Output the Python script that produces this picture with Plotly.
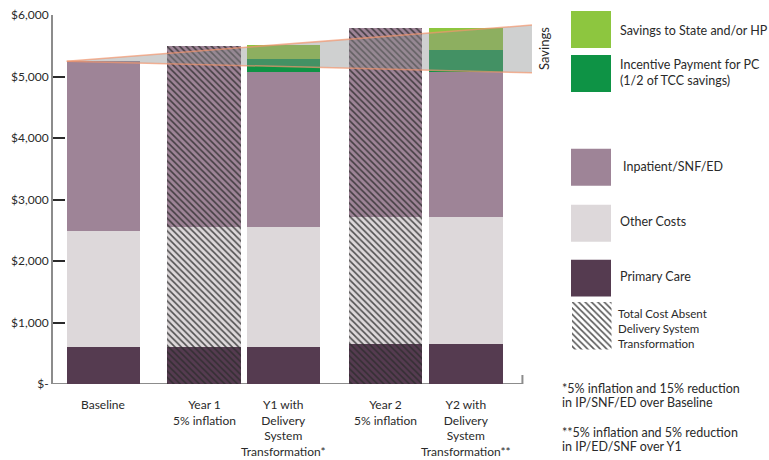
import plotly.graph_objects as go

# ---------------- data ----------------
CATEGORIES = [
    "Baseline",
    "Year 1<br>5% inflation",
    "Y1 with<br>Delivery<br>System<br>Transformation*",
    "Year 2<br>5% inflation",
    "Y2 with<br>Delivery<br>System<br>Transformation**",
]
PRIMARY_CARE = [600, 600, 600, 655, 655]
OTHER_COSTS = [1880, 1960, 1960, 2055, 2055]
INPATIENT = [2770, 2940, 2510, 3075, 2370]
INCENTIVE_PC = [0, 0, 215, 0, 355]
SAVINGS_STATE = [0, 0, 220, 0, 355]
ABSENT_TRANSFORMATION = [False, True, False, True, False]
SAVINGS_BAND_END = [5836, 5060]          # upper / lower value of the savings wedge at its right end
Y_TICKS = [0, 1000, 2000, 3000, 4000, 5000, 6000]
Y_TICK_LABELS = ["$-", "$1,000", "$2,000", "$3,000", "$4,000", "$5,000", "$6,000"]
LEGEND_LABELS = ["Savings to State and/or HP",
                 "Incentive Payment for PC<br>(1/2 of TCC savings)",
                 "Inpatient/SNF/ED", "Other Costs", "Primary Care",
                 "Total Cost Absent<br>Delivery System<br>Transformation"]
FOOTNOTES = ["*5% inflation and 15% reduction", "in IP/SNF/ED over Baseline",
             "**5% inflation and 5% reduction", "in IP/ED/SNF over Y1"]

# ---------------- layout constants ----------------
W, H = 769, 460
ML, MT, MB, MR = 53, 15, 75.5, 0
PW, PH = W - ML - MR, H - MT - MB
PLOT_RIGHT_PX = 540
X_POS = [0, 1.37, 2.45, 3.84, 4.93]
BAR_W = 1.0
X_RANGE = [-0.687, 5.939]
BAND_END_X = 5.83
AXIS_END_X = 5.70

C_PC = "#553b50"
C_OTHER = "#ddd8da"
C_IP = "#9e8497"
C_GREEN_D = "#0e9345"
C_GREEN_L = "#8dc63f"
TXT = "#2a2a2a"
FONT = "Lato, Open Sans, sans-serif"
HATCH = dict(fillmode="overlay", fgcolor="#2b2b2b", fgopacity=0.8, size=4.5, solidity=0.35)


def px2x(px):
    return (px - ML) / PW


def px2y(py):
    return (MT + PH - py) / PH


hatch = ["\\" if a else "" for a in ABSENT_TRANSFORMATION]

fig = go.Figure()
for vals, col, name, pat in [
    (PRIMARY_CARE, C_PC, "Primary Care", True),
    (OTHER_COSTS, C_OTHER, "Other Costs", True),
    (INPATIENT, C_IP, "Inpatient/SNF/ED", True),
    (INCENTIVE_PC, C_GREEN_D, "Incentive Payment for PC", False),
    (SAVINGS_STATE, C_GREEN_L, "Savings to State and/or HP", False),
]:
    marker = dict(color=col, line=dict(width=0))
    if pat:
        marker["pattern"] = dict(shape=hatch, **HATCH)
    fig.add_trace(go.Bar(x=X_POS, y=vals, width=BAR_W, name=name, marker=marker,
                         hoverinfo="skip", showlegend=False))

# hatched legend swatch in its own tiny subplot
fig.add_trace(go.Bar(x=[0], y=[1], width=1, xaxis="x2", yaxis="y2", showlegend=False,
                     hoverinfo="skip",
                     marker=dict(color="white", line=dict(width=0),
                                 pattern=dict(shape="\\", **HATCH))))

shapes = []
# savings wedge
base_total = PRIMARY_CARE[0] + OTHER_COSTS[0] + INPATIENT[0]
x0 = X_POS[0] - BAR_W / 2
shapes.append(dict(type="path", xref="x", yref="y", layer="above",
                   path=f"M {x0},{base_total} L {BAND_END_X},{SAVINGS_BAND_END[0]} "
                        f"L {BAND_END_X},{SAVINGS_BAND_END[1]} Z",
                   fillcolor="rgba(141,142,143,0.42)", line=dict(width=0)))
for yend in SAVINGS_BAND_END:
    shapes.append(dict(type="line", xref="x", yref="y", layer="above",
                       x0=x0, y0=base_total, x1=BAND_END_X, y1=yend,
                       line=dict(color="rgba(242,150,110,0.7)", width=1.5)))
# bottom axis line + end tick
shapes.append(dict(type="line", xref="x", yref="y", layer="below",
                   x0=X_RANGE[0], x1=AXIS_END_X, y0=0, y1=0,
                   line=dict(color="#8c8c8c", width=2)))
shapes.append(dict(type="line", xref="x", yref="y", ysizemode="pixel", yanchor=0,
                   x0=AXIS_END_X, x1=AXIS_END_X, y0=0, y1=9,
                   line=dict(color="#8c8c8c", width=2)))

# legend swatches (solid)
swatches = [(C_GREEN_L, 11, 48), (C_GREEN_D, 55, 92), (C_IP, 149, 186),
            (C_OTHER, 205, 242), (C_PC, 260, 297)]
for col, top, bot in swatches:
    shapes.append(dict(type="rect", xref="paper", yref="paper",
                       x0=px2x(571), x1=px2x(611), y0=px2y(bot), y1=px2y(top),
                       fillcolor=col, line=dict(width=0)))

annotations = []
# category labels under the bars
for xp, lab in zip(X_POS, CATEGORIES):
    annotations.append(dict(xref="x", yref="paper", x=xp, y=0, xanchor="center",
                            yanchor="top", yshift=-11, showarrow=False, align="center",
                            text=lab, font=dict(family=FONT, size=12, color=TXT)))
legend_text_pos = [(618, 31, 12.5), (618, 73, 12.5), (621, 167, 12.5), (618, 222, 12.5),
                   (618, 277, 12.5), (616, 329, 11.5)]
for lab, (lx, ly, fs) in zip(LEGEND_LABELS, legend_text_pos):
    annotations.append(dict(xref="paper", yref="paper", x=px2x(lx), y=px2y(ly),
                            xanchor="left", yanchor="middle", align="left", showarrow=False,
                            text=lab, font=dict(family=FONT, size=fs, color=TXT)))
for txt, fy in zip(FOOTNOTES, [389, 403, 433, 447]):
    annotations.append(dict(xref="paper", yref="paper", x=px2x(560), y=px2y(fy),
                            xanchor="left", yanchor="middle", showarrow=False,
                            text=txt, font=dict(family=FONT, size=12.5, color=TXT)))
annotations.append(dict(xref="paper", yref="paper", x=px2x(544), y=px2y(49),
                        xanchor="center", yanchor="middle", showarrow=False, textangle=-90,
                        text="Savings", font=dict(family=FONT, size=13, color=TXT)))

fig.update_layout(
    width=W, height=H,
    margin=dict(l=ML, r=MR, t=MT, b=MB, autoexpand=False),
    paper_bgcolor="white", plot_bgcolor="white",
    barmode="stack", bargap=0, showlegend=False,
    font=dict(family=FONT, color=TXT),
    xaxis=dict(domain=[0, px2x(PLOT_RIGHT_PX)], range=X_RANGE, showline=False,
               showgrid=False, zeroline=False, ticks="", showticklabels=False),
    yaxis=dict(domain=[0, 1], range=[0, 6000], showline=True, linecolor="#8c8c8c",
               linewidth=2, ticks="inside", ticklen=12, tickwidth=1.5, tickcolor="#2a2a2a",
               tickvals=Y_TICKS, ticktext=Y_TICK_LABELS, showgrid=False, zeroline=False,
               tickfont=dict(family=FONT, size=12, color=TXT)),
    xaxis2=dict(domain=[px2x(572), px2x(611.5)], range=[-0.5, 0.5], visible=False,
                anchor="y2", fixedrange=True),
    yaxis2=dict(domain=[px2y(350), px2y(302)], range=[0, 1], visible=False,
                anchor="x2", fixedrange=True),
    shapes=shapes, annotations=annotations,
)

fig.write_html("out.html")
